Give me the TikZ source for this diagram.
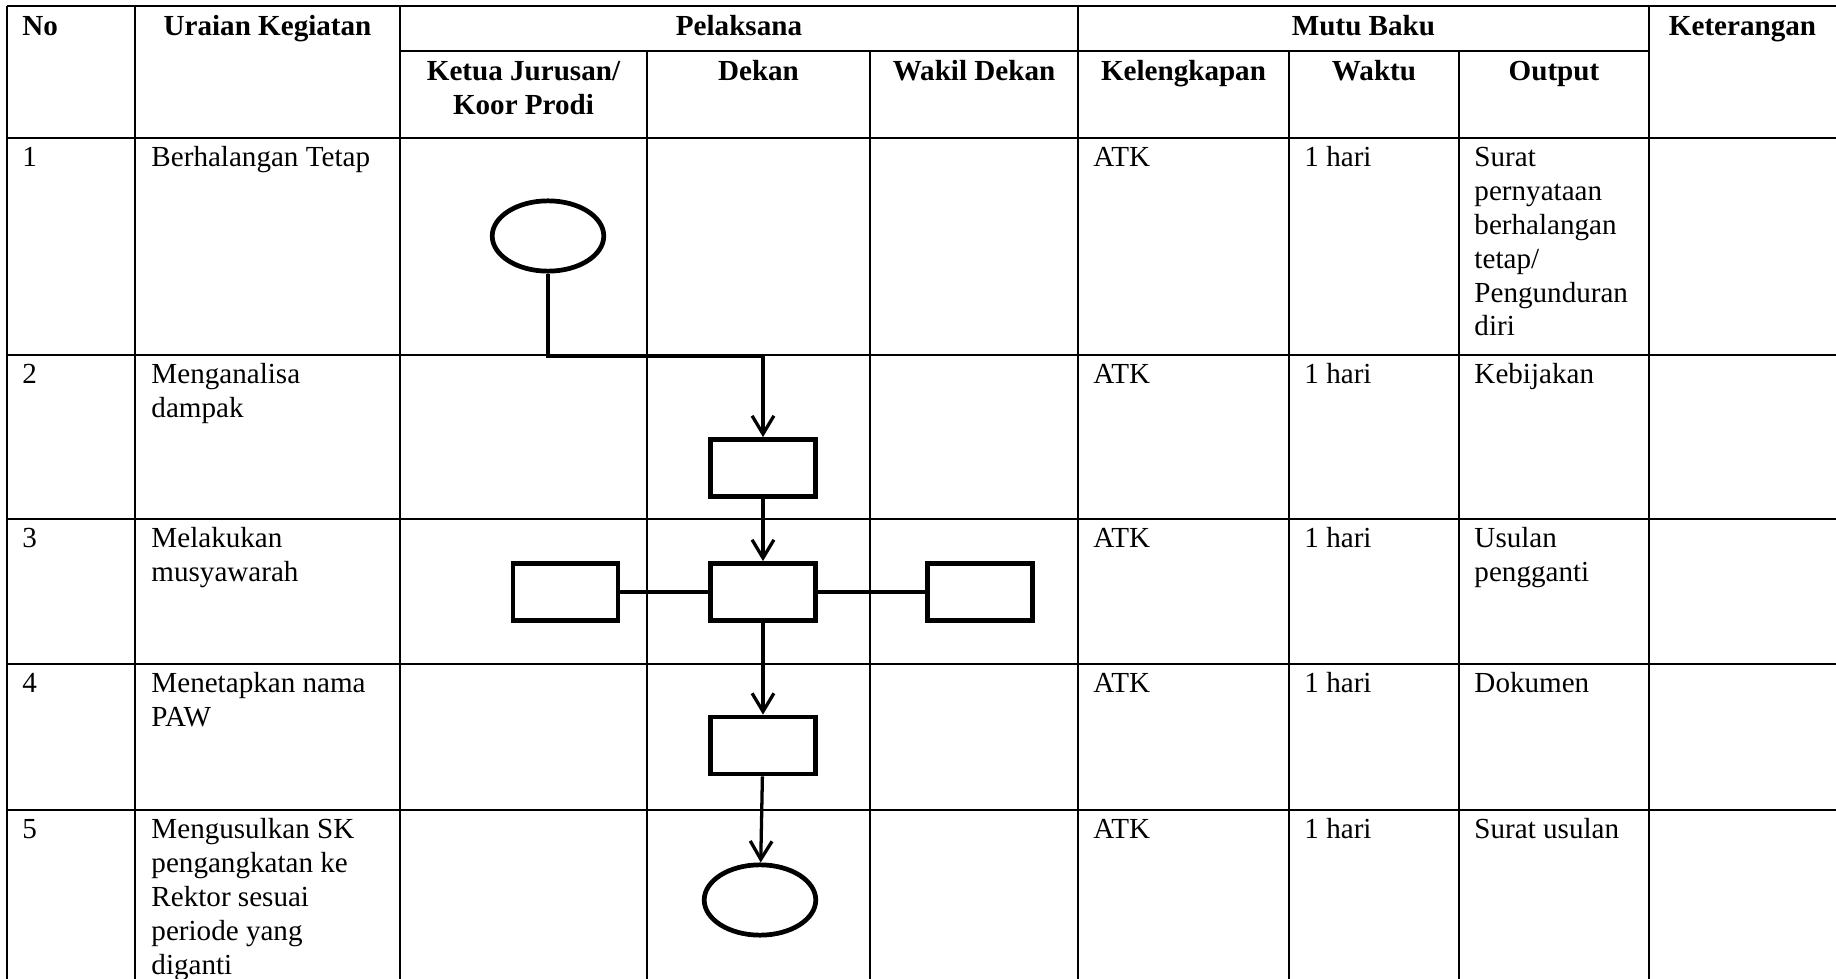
\documentclass[tikz,border=0pt]{standalone}
\usepackage{fontspec}
\setmainfont{Liberation Serif}
\usetikzlibrary{arrows.meta,shapes.geometric}

\begin{document}
\begin{tikzpicture}[
        x=0.4124pt, y=-0.4124pt,
        font=\fontsize{12}{14}\selectfont,
        >={Straight Barb[length=7.5pt,width=9pt]},
        grid/.style={line width=0.55pt},
        head/.style={
            anchor=north,
            inner sep=0pt,
            align=center,
            font=\fontsize{12}{14}\selectfont\bfseries
        },
        cell/.style={anchor=north west, inner sep=0pt, align=left},
        terminal/.style={
            ellipse,
            draw,
            line width=1.95pt,
            inner sep=0pt,
            minimum width=46pt,
            minimum height=29pt
        },
        proses/.style={
            rectangle,
            draw,
            line width=1.95pt,
            inner sep=0pt,
            minimum width=43.3pt,
            minimum height=23.5pt
        },
        alur/.style={->, line width=1.35pt},
        garis/.style={line width=1.35pt},
    ]

        \useasboundingbox (0,0) rectangle (1836,979);

        \def\cno{7}
        \def\curaian{135}
        \def\cketua{400}
        \def\cdekan{647}
        \def\cwakil{870}
        \def\ckel{1078}
        \def\cwaktu{1289}
        \def\coutput{1459}
        \def\cket{1649}
        \def\cend{1836}
        \def\rtop{6}
        \def\rsub{51}
        \def\rhead{138}
        \def\rbot{979}

        % garis tabel
        \foreach \y in {\rtop,\rhead,355,519,664,810}{
            \draw[grid] (\cno,\y) -- (\cend,\y);
        }
        \draw[grid] (\cketua,\rsub) -- (\cket,\rsub);
        \foreach \x in {\cno,\curaian,\cketua,\ckel,\cket}{
            \draw[grid] (\x,\rtop) -- (\x,\rbot);
        }
        \foreach \x in {\cdekan,\cwakil,\cwaktu,\coutput}{
            \draw[grid] (\x,\rsub) -- (\x,\rbot);
        }

        % judul kolom
        \node[head, anchor=north west] (hno) at (22,11) {\strut No};
        \foreach \x/\teks/\nama in {
            267.5/{Uraian Kegiatan}/huraian,
            739/Pelaksana/hpelaksana,
            1363.5/{Mutu Baku}/hmutu,
            1742.5/Keterangan/hket
        }{
            \node[head] (\nama) at (\x,11) {\strut\teks};
        }
        \foreach \x/\teks/\nama in {
            523.5/{Ketua Jurusan/\\Koor Prodi}/hketua,
            758.5/Dekan/hdekan,
            974/{Wakil Dekan}/hwakil,
            1183.5/Kelengkapan/hkel,
            1374/Waktu/hwaktu,
            1554/Output/houtput
        }{
            \node[head] (\nama) at (\x,56) {\strut\teks};
        }

        % isi baris
        \foreach \y/\no/\uraian/\keluaran in {
            138/1/{Berhalangan Tetap}/{Surat\\pernyataan\\berhalangan\\tetap/\\Pengunduran\\diri},
            355/2/{Menganalisa\\dampak}/Kebijakan,
            519/3/{Melakukan\\musyawarah}/{Usulan\\pengganti},
            664/4/{Menetapkan nama\\PAW}/Dokumen,
            810/5/{Mengusulkan SK\\pengangkatan ke\\Rektor sesuai\\periode yang\\diganti}/{Surat usulan}
        }{
            \node[cell] (no\no) at (22,\y+4) {\strut\no};
            \node[cell] (uraian\no) at (151,\y+4) {\strut\uraian};
            \node[cell] (kel\no) at (1093,\y+4) {\strut ATK};
            \node[cell] (waktu\no) at (1304,\y+4) {\strut 1 hari};
            \node[cell] (output\no) at (1474,\y+4) {\strut\keluaran};
        }

        % bagan alir
        \node[terminal] (mulai) at (548,236) {};
        \node[proses] (analisa) at (763,468) {};
        \node[proses] (musyawarah) at (763,592) {};
        \node[proses] (kiri) at (565.5,592) {};
        \node[proses] (kanan) at (980,592) {};
        \node[proses] (tetapkan) at (763,745.5) {};
        \node[terminal] (selesai) at (760,900) {};
        \coordinate (belok) at (763,356);

        \draw[alur] (mulai.south) |- (belok) -- (analisa.north);
        \draw[alur] (analisa) -- (musyawarah);
        \draw[garis] (kiri) -- (musyawarah);
        \draw[garis] (musyawarah) -- (kanan);
        \draw[alur] (musyawarah) -- (tetapkan);
        \draw[alur] (tetapkan) -- (selesai);

    \end{tikzpicture}
\end{document}
